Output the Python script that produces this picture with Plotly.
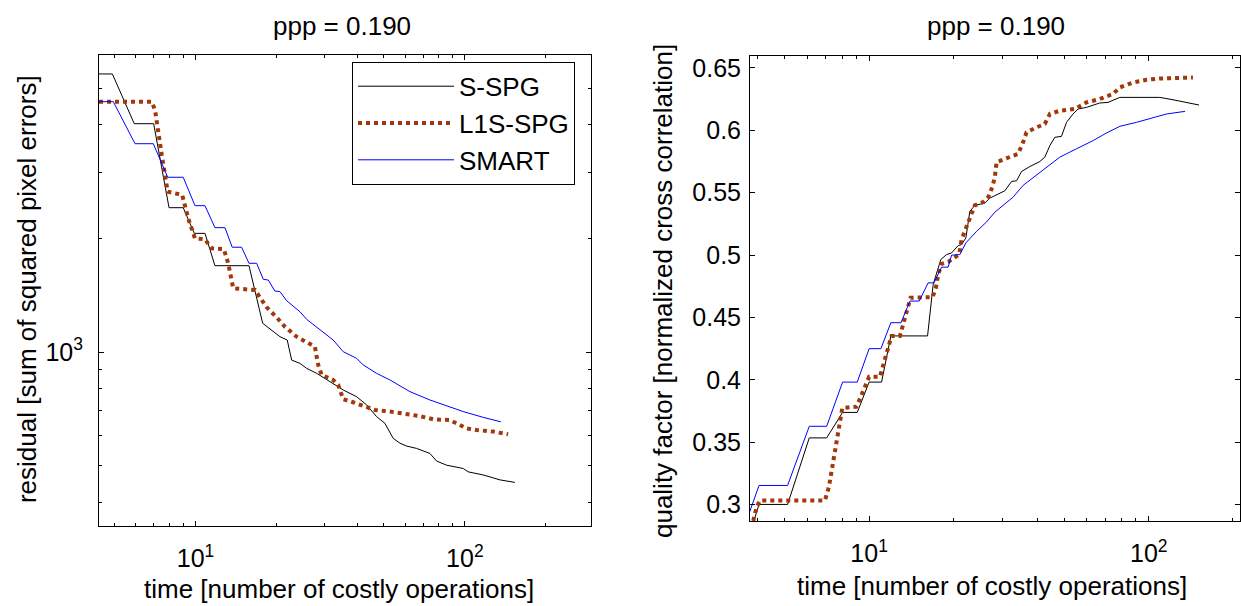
import plotly.graph_objects as go
import math

# ---------------- data ----------------
# Left panel: residual vs time
res_sspg_t = [4.38, 4.91, 5.92, 6.99, 7.97, 9.00, 9.89, 10.84, 11.80, 15.79, 17.75, 20.58, 21.90, 22.74,
              24.41, 25.85, 28.16, 31.54, 35.34, 39.63, 43.17, 47.0, 50.47, 54.2, 57.4, 60.8, 66.2,
              74.2, 78.5, 85.5, 98.6, 102.9, 116.9, 134.9, 153.4]
res_sspg = [5463, 5463, 4032, 4032, 2414, 2414, 2064, 2064, 1694, 1694, 1192, 1098, 1076, 952,
            933, 905, 878, 834, 793, 761, 724, 674, 647, 590, 573, 563, 555,
            538, 514, 501, 491, 481, 472, 458, 451]

res_l1s_t = [4.38, 6.87, 7.07, 7.27, 7.49, 7.70, 7.88, 8.92, 9.39, 9.95, 10.84, 11.47, 12.74, 13.22,
             13.61, 13.80, 16.62, 17.09, 18.36, 20.0, 21.47, 23.73, 27.75, 28.16, 28.54, 29.38,
             32.43, 33.86, 35.34, 37.96, 41.93, 46.35, 52.7, 59.0, 68.1, 76.3, 87.9, 93.1,
             101.5, 110.5, 127.4, 144.7]
res_l1s = [4612, 4612, 4385, 3763, 3331, 2948, 2662, 2608, 2263, 2002, 1990, 1884, 1873, 1719,
           1552, 1476, 1460, 1416, 1314, 1236, 1167, 1098, 1033, 972, 924, 869,
           843, 818, 749, 738, 719, 702, 695, 688, 676, 663, 660, 647,
           627, 621, 615, 605]

res_smart_t = [4.38, 4.95, 5.96, 6.97, 7.88, 9.00, 9.95, 10.84, 11.80, 12.86, 13.68, 14.83, 15.79,
               16.86, 17.84, 18.62, 19.71, 20.58, 21.78, 24.41, 25.85, 28.16, 32.43, 35.34, 39.63,
               41.93, 47.0, 52.7, 62.5, 74.2, 85.5, 98.6, 116.9, 136.0]
res_smart = [4612, 4612, 3568, 3568, 2907, 2907, 2444, 2444, 2137, 2137, 1896, 1896, 1719,
             1719, 1559, 1552, 1451, 1446, 1368, 1279, 1221, 1163, 1076, 1002, 962,
             924, 878, 843, 785, 746, 719, 695, 671, 653]

# Right panel: quality factor vs time
q_sspg_t = [3.85, 4.04, 5.11, 6.11, 7.05, 8.04, 9.07, 10.0, 11.08, 11.96, 16.18, 16.95, 18.05, 18.92,
            19.72, 20.82, 21.41, 22.18, 22.92, 23.88, 25.93, 27.02, 30.58, 32.32, 33.67, 35.08,
            37.56, 40.77, 42.5, 44.3, 46.15, 48.75, 50.8, 53.6, 55.9, 59.9, 66.8, 71.5, 78.8,
            109.5, 122.1, 143.9, 151.3]
q_sspg = [0.2853, 0.3002, 0.3002, 0.3535, 0.3535, 0.3739, 0.3739, 0.3982, 0.3982, 0.4352, 0.4352,
          0.4765, 0.4964, 0.5004, 0.5017, 0.5076, 0.5084, 0.5137, 0.5350, 0.5398, 0.5416, 0.5456,
          0.5515, 0.5590, 0.5595, 0.5669, 0.5709, 0.5749, 0.5784, 0.5877, 0.5943, 0.5951, 0.6063,
          0.6130, 0.6170, 0.6183, 0.6218, 0.6223, 0.6263, 0.6263, 0.6244, 0.6210, 0.6202]

q_l1s_t = [3.85, 3.96, 4.07, 6.95, 7.18, 7.44, 7.76, 8.02, 9.02, 9.27, 9.66, 10.0, 10.93, 11.39,
           11.87, 12.03, 12.89, 13.43, 13.79, 14.07, 16.87, 17.33, 17.66, 18.16, 19.17, 20.26,
           20.99, 21.41, 21.99, 22.92, 23.88, 25.57, 26.65, 27.64, 28.17, 28.56, 31.87, 34.12,
           35.53, 36.54, 39.68, 42.5, 44.3, 48.08, 54.4, 59.9, 66.8, 74.5, 78.8, 87.9, 98.1,
           109.5, 143.9]
q_l1s = [0.2870, 0.2980, 0.3034, 0.3034, 0.3141, 0.3354, 0.3620, 0.3775, 0.3785, 0.3846, 0.3953,
         0.4024, 0.4024, 0.4166, 0.4312, 0.4352, 0.4352, 0.4485, 0.4578, 0.4658, 0.4663, 0.4738,
         0.4845, 0.4929, 0.4945, 0.4983, 0.5004, 0.5124, 0.5190, 0.5292, 0.5398, 0.5424, 0.5462,
         0.5550, 0.5629, 0.5744, 0.5784, 0.5811, 0.5903, 0.5983, 0.6023, 0.6050, 0.6130, 0.6156,
         0.6170, 0.6223, 0.6250, 0.6290, 0.6343, 0.6382, 0.6404, 0.6414, 0.6422]

q_smart_t = [3.72, 4.04, 5.11, 6.11, 7.05, 8.04, 9.07, 10.0, 11.02, 11.96, 13.0, 14.0, 15.1, 16.26,
             17.05, 18.16, 19.17, 19.72, 21.12, 22.18, 24.23, 26.3, 28.17, 30.16, 32.73, 35.53,
             40.77, 48.08, 55.15, 63.25, 70.63, 78.8, 90.4, 103.6, 115.7, 134.9]
q_smart = [0.2928, 0.3154, 0.3154, 0.3628, 0.3628, 0.3982, 0.3982, 0.4250, 0.4250, 0.4458, 0.4458,
           0.4631, 0.4631, 0.4777, 0.4777, 0.4903, 0.4903, 0.4999, 0.5004, 0.5097, 0.5190, 0.5265,
           0.5344, 0.5398, 0.5464, 0.5558, 0.5664, 0.5784, 0.5851, 0.5917, 0.5978, 0.6031, 0.6063,
           0.6103, 0.6130, 0.6151]

series_names = ["S-SPG", "L1S-SPG", "SMART"]
title_text = "ppp = 0.190"
x_title = "time [number of costly operations]"
y_title_left = "residual [sum of squared pixel errors]"
y_title_right = "quality factor [normalized cross correlation]"

q_ticks = [0.3, 0.35, 0.4, 0.45, 0.5, 0.55, 0.6, 0.65]
q_ticktext = ["0.3", "0.35", "0.4", "0.45", "0.5", "0.55", "0.6", "0.65"]
x_ticks = [10, 100]
x_ticktext = ["10<sup>1</sup>", "10<sup>2</sup>"]
res_ticks = [1000]
res_ticktext = ["10<sup>3</sup>"]
res_minor = [400, 500, 600, 700, 800, 900, 2000, 3000, 4000, 5000]

# ---------------- styling ----------------
FONT = "Liberation Sans, Arial, sans-serif"
FS = 26      # titles / labels / legend
TFS = 25     # tick labels
BLACK = "#000000"
BLUE = "#0000FF"
BROWN = "#A0380A"

W, H = 1241, 606

def px_x(p):
    return p / W

def px_y(p):
    return 1 - p / H

fig = go.Figure()

styles = {
    "S-SPG": dict(color=BLACK, width=1),
    "L1S-SPG": dict(color=BROWN, width=4, dash="dot"),
    "SMART": dict(color=BLUE, width=1),
}

left_data = {"S-SPG": (res_sspg_t, res_sspg), "L1S-SPG": (res_l1s_t, res_l1s), "SMART": (res_smart_t, res_smart)}
right_data = {"S-SPG": (q_sspg_t, q_sspg), "L1S-SPG": (q_l1s_t, q_l1s), "SMART": (q_smart_t, q_smart)}

for name in series_names:
    t, v = left_data[name]
    fig.add_trace(go.Scatter(x=t, y=v, mode="lines", name=name, line=styles[name],
                             xaxis="x", yaxis="y", showlegend=True))
for name in series_names:
    t, v = right_data[name]
    fig.add_trace(go.Scatter(x=t, y=v, mode="lines", name=name, line=styles[name],
                             xaxis="x2", yaxis="y2", showlegend=False))

def log_minor(lo, hi):
    vals = []
    for d in [1, 10, 100]:
        for m in range(2, 10):
            v = m * d
            if lo < v < hi:
                vals.append(v)
    return vals

axis_common = dict(showline=True, linecolor=BLACK, linewidth=1, mirror="ticks",
                   ticks="inside", ticklen=5, tickcolor=BLACK, tickwidth=1,
                   showgrid=False, zeroline=False,
                   tickfont=dict(family=FONT, size=TFS, color=BLACK))

lx_lo, lx_hi = 4.38, 294
ly_lo, ly_hi = 345, 6140
rx_lo, rx_hi = 3.75, 212

fig.update_layout(
    width=W, height=H,
    margin=dict(l=0, r=0, t=0, b=0),
    paper_bgcolor="white", plot_bgcolor="white",
    font=dict(family=FONT, size=FS, color=BLACK),
    xaxis=dict(type="log", domain=[px_x(99), px_x(591)], anchor="y",
               range=[math.log10(lx_lo), math.log10(lx_hi)],
               tickmode="array", tickvals=x_ticks, ticktext=x_ticktext,
               ticklabelstandoff=10,
               minor=dict(tickmode="array", tickvals=log_minor(lx_lo, lx_hi), ticks="inside",
                          ticklen=3, tickcolor=BLACK, showgrid=False),
               **axis_common),
    yaxis=dict(type="log", domain=[px_y(526), px_y(53)], anchor="x",
               range=[math.log10(ly_lo), math.log10(ly_hi)],
               tickmode="array", tickvals=res_ticks, ticktext=res_ticktext,
               ticklabelstandoff=10,
               minor=dict(tickmode="array", tickvals=res_minor,
                          ticks="inside", ticklen=3, tickcolor=BLACK, showgrid=False),
               **axis_common),
    xaxis2=dict(type="log", domain=[px_x(750), px_x(1240)], anchor="y2",
                range=[math.log10(rx_lo), math.log10(rx_hi)],
                tickmode="array", tickvals=x_ticks, ticktext=x_ticktext,
                ticklabelstandoff=10,
                minor=dict(tickmode="array", tickvals=log_minor(rx_lo, rx_hi), ticks="inside",
                           ticklen=3, tickcolor=BLACK, showgrid=False),
                **axis_common),
    yaxis2=dict(domain=[px_y(521), px_y(54)], anchor="x2",
                range=[0.2867, 0.6596],
                tickmode="array", tickvals=q_ticks, ticktext=q_ticktext,
                ticklabelstandoff=3,
                **axis_common),
    legend=dict(x=px_x(352), y=px_y(60), xanchor="left", yanchor="top",
                bgcolor="white", bordercolor=BLACK, borderwidth=1,
                font=dict(family=FONT, size=FS, color=BLACK),
                itemwidth=96, tracegroupgap=0),
    showlegend=True,
)

annotations = [
    dict(text=title_text, x=px_x(342), y=px_y(24)),
    dict(text=title_text, x=px_x(996), y=px_y(24)),
    dict(text=x_title, x=px_x(339), y=px_y(589)),
    dict(text=x_title, x=px_x(992), y=px_y(586)),
    dict(text=y_title_left, x=px_x(27), y=px_y(288), textangle=-90),
    dict(text=y_title_right, x=px_x(663), y=px_y(290), textangle=-90),
]
for a in annotations:
    fig.add_annotation(xref="paper", yref="paper", xanchor="center", yanchor="middle",
                       showarrow=False, font=dict(family=FONT, size=FS, color=BLACK), **a)

fig.write_html("out.html",
               config={"displayModeBar": False},
               post_script="document.body.style.margin='0';document.body.style.overflow='hidden';")
